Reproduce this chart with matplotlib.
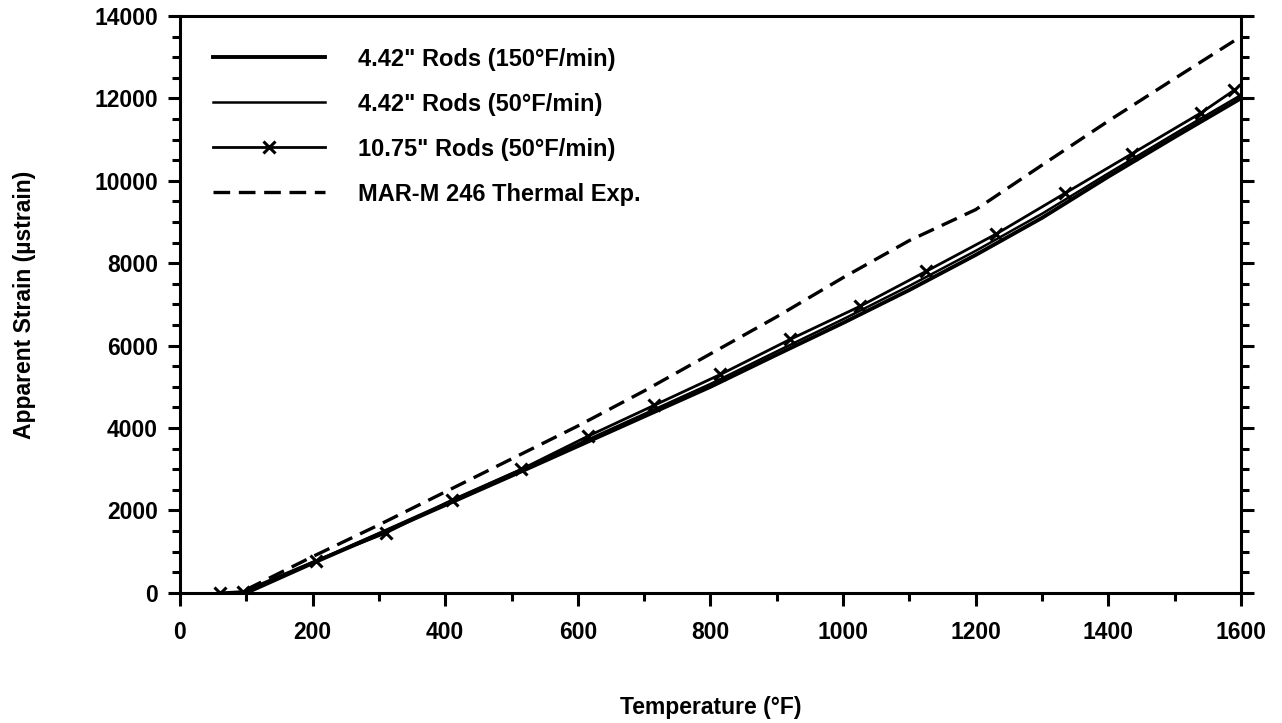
import matplotlib.pyplot as plt
from matplotlib.ticker import MultipleLocator

plt.rcParams['font.family'] = ['Liberation Sans', 'DejaVu Sans']

# 4.42" rods, 150 F/min
temp_a = [100, 200, 300, 400, 500, 600, 700, 800, 900, 1000, 1100, 1200, 1300, 1400, 1500, 1600]
strain_a = [0, 720, 1420, 2130, 2840, 3560, 4280, 5000, 5780, 6550, 7350, 8200, 9100, 10100, 11060, 12000]

# 4.42" rods, 50 F/min
temp_b = [100, 200, 300, 400, 500, 600, 700, 800, 900, 1000, 1100, 1200, 1300, 1400, 1500, 1600]
strain_b = [0, 740, 1450, 2170, 2890, 3610, 4340, 5070, 5860, 6640, 7450, 8300, 9200, 10180, 11140, 12080]

# 10.75" rods, 50 F/min (marked)
temp_c = [60, 95, 205, 310, 410, 515, 615, 715, 815, 920, 1025, 1125, 1230, 1335, 1435, 1540, 1590]
strain_c = [0, 30, 780, 1450, 2250, 3000, 3800, 4550, 5300, 6150, 6950, 7800, 8700, 9700, 10650, 11650, 12200]

# MAR-M 246 thermal expansion
temp_d = [100, 200, 300, 400, 500, 600, 700, 800, 900, 1000, 1100, 1200, 1300, 1400, 1500, 1600]
strain_d = [80, 880, 1650, 2450, 3250, 4050, 4900, 5800, 6700, 7650, 8550, 9300, 10380, 11450, 12480, 13500]

labels = ['4.42" Rods (150°F/min)', '4.42" Rods (50°F/min)',
          '10.75" Rods (50°F/min)', 'MAR-M 246 Thermal Exp.']

fig = plt.figure(figsize=(12.82, 7.23), dpi=100)
ax = fig.add_axes([0.1404, 0.18, 0.8276, 0.798])

ax.plot(temp_a, strain_a, color='black', lw=2.8, label=labels[0])
ax.plot(temp_b, strain_b, color='black', lw=1.8, label=labels[1])
ax.plot(temp_c, strain_c, color='black', lw=2.0, marker='x', ms=9, mew=2.2, label=labels[2])
ax.plot(temp_d, strain_d, color='black', lw=2.4, dashes=(5, 2.6), label=labels[3])

ax.set_xlim(0, 1600)
ax.set_ylim(0, 14000)
ax.xaxis.set_major_locator(MultipleLocator(200))
ax.xaxis.set_minor_locator(MultipleLocator(100))
ax.yaxis.set_major_locator(MultipleLocator(2000))
ax.yaxis.set_minor_locator(MultipleLocator(500))

for s in ax.spines.values():
    s.set_linewidth(2.2)

ax.tick_params(which='both', direction='out', width=2.2, labelsize=16.5,
               left=True, right=True, bottom=True, top=False)
ax.tick_params(which='major', length=9, pad=7)
ax.tick_params(which='minor', length=5.5)
ax.tick_params(axis='x', which='major', pad=11)
for t in ax.get_xticklabels() + ax.get_yticklabels():
    t.set_fontweight('bold')

ax.set_xlabel('Temperature (°F)', fontsize=16.5, fontweight='bold', labelpad=38)
ax.set_ylabel('Apparent Strain (µstrain)', fontsize=16.5, fontweight='bold', labelpad=42)

ax.legend(loc='upper left', bbox_to_anchor=(0.031, 0.945), frameon=False,
          borderaxespad=0, borderpad=0,
          prop={'size': 17, 'weight': 'bold'},
          handlelength=4.75, handletextpad=1.4, labelspacing=0.93)

fig.savefig('out.png', dpi=100)
